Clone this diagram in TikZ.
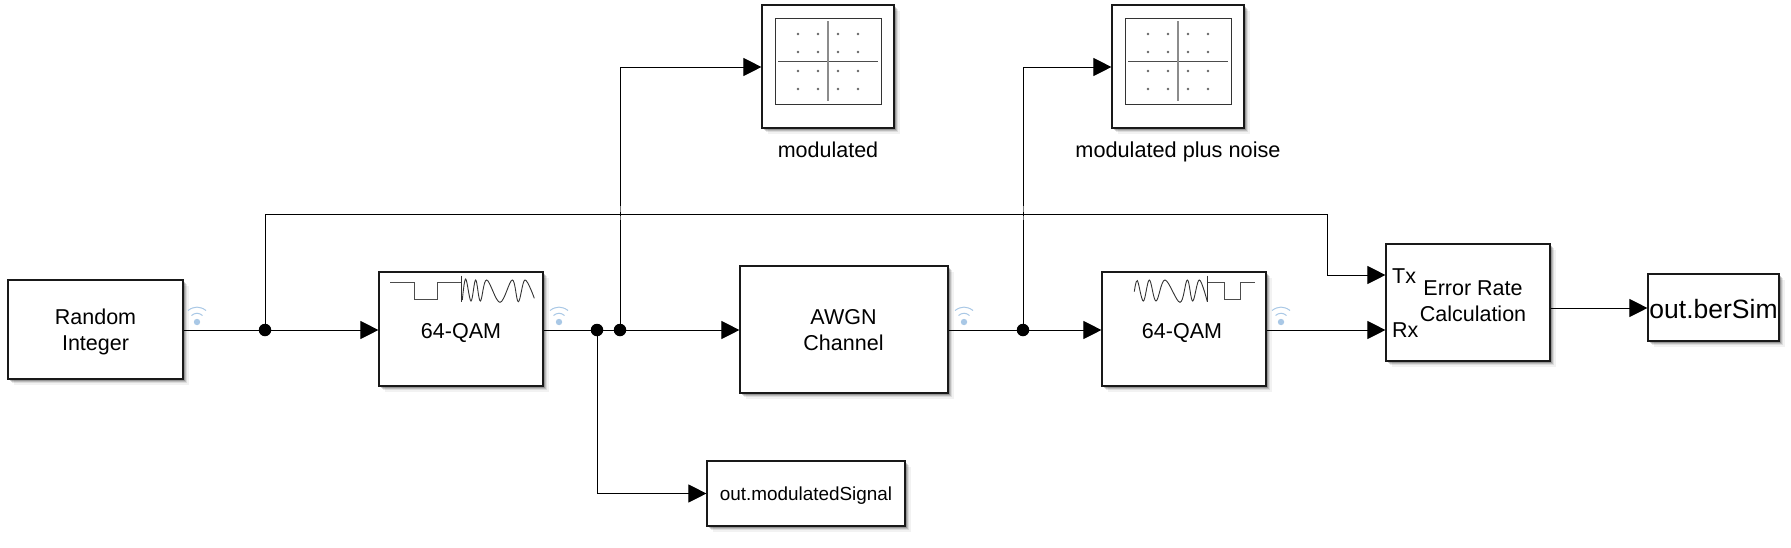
\documentclass[tikz,border=0pt]{standalone}
\usepackage{fontspec}
\setmainfont{Liberation Sans}
\usetikzlibrary{arrows.meta,shadows,calc}
\definecolor{wifi}{HTML}{A9C8E6}
\tikzset{
  x=1pt,y=-1pt,
  softshadow/.style={
    general shadow={shadow xshift=5.5pt,shadow yshift=-5.5pt,fill=black,opacity=.05},
    general shadow={shadow xshift=4pt,shadow yshift=-4pt,fill=black,opacity=.09},
    general shadow={shadow xshift=2.8pt,shadow yshift=-2.8pt,fill=black,opacity=.14},
    general shadow={shadow xshift=1.6pt,shadow yshift=-1.6pt,fill=black,opacity=.2}},
  blk/.style={draw=black!90,line width=1.15pt,fill=white,inner sep=0pt,align=center,softshadow},
  sig/.style={draw=black,line width=.95pt},
  arr/.style={sig,-{Triangle[length=18pt,width=18pt]}},
  junction/.style={circle,fill=black,inner sep=0pt,minimum size=12.5pt},
  wave/.style={draw=black!80,line width=.9pt},
  lab/.style={inner sep=0pt,align=center},
}
\newcommand{\fs}[1]{\fontsize{#1}{27}\selectfont}
% name, x1, y1, x2, y2, text, font size
\newcommand{\blockbox}[7]{%
  \node[blk,minimum width=#4pt-#2pt,minimum height=#5pt-#3pt,font=\fs{#7}]
    (#1) at ({(#2+#4)/2},{(#3+#5)/2}) {#6};}
\newcommand{\scopeicon}[1]{%
  \begin{scope}[shift={(#1,0)}]
    \draw[black!80,line width=.9pt] (775,18) rectangle (881,104);
    \draw[black!70,line width=.8pt] (778,61) -- (878,61);
    \draw[black!45,line width=1.1pt] (828,21) -- (828,101);
    \foreach \px in {798,818,838,858}
      \foreach \py in {34,52,71,89}
        \fill[black!60] (\px,\py) circle (1.4pt);
  \end{scope}}
\newcommand{\wifiicon}[1]{%
  \begin{scope}[shift={(#1,322)}]
    \fill[wifi] (0,0) circle (3.2pt);
    \draw[wifi,line width=1pt] (-5.5,-6.5) .. controls (-2,-9.5) and (2,-9.5) .. (5.5,-6.5);
    \draw[wifi,line width=1pt] (-9,-11.5) .. controls (-3,-16) and (3,-16) .. (9,-11.5);
  \end{scope}}
\begin{document}
\begin{tikzpicture}
\useasboundingbox (0,0) rectangle (1791,547);
\fill[white] (0,0) rectangle (1791,547);

% junctions and routing points
\coordinate (j1) at (265,330);
\coordinate (j2) at (597,330);
\coordinate (j3) at (620,330);
\coordinate (j4) at (1023,330);
\coordinate (top1) at (265,214);
\coordinate (top2) at (1327,214);
\coordinate (cr1) at (620,214);
\coordinate (cr2) at (1023,214);

% blocks
\blockbox{rnd}{8}{280}{183}{379}{}{21.5}
\blockbox{qam1}{379}{272}{543}{386}{}{21.5}
\blockbox{awgn}{740}{266}{948}{393}{}{21.5}
\blockbox{qam2}{1102}{272}{1266}{386}{}{21.5}
\blockbox{err}{1386}{244}{1550}{361}{}{21.5}
\blockbox{ber}{1648}{274}{1779}{341}{}{26.5}
\blockbox{sink}{707}{461}{905}{526}{}{18.9}
\blockbox{sc1}{762}{5}{894}{128}{}{21.5}
\blockbox{sc2}{1112}{5}{1244}{128}{}{21.5}

% block contents
\node[lab,font=\fs{21.5},anchor=base] (tr1) at (95.5,324.5) {Random};
\node[lab,font=\fs{21.5},anchor=base] (tr2) at (95.5,350) {Integer};
\node[lab,font=\fs{21.5},anchor=base] (ta1) at (843.5,324.5) {AWGN};
\node[lab,font=\fs{21.5},anchor=base] (ta2) at (843.5,350) {Channel};
\node[lab,font=\fs{26.5},anchor=base] (tb) at (1713.5,318) {out.berSim};
\node[lab,font=\fs{18.9},anchor=base] (ts) at (806,500) {out.modulatedSignal};
\node[lab,font=\fs{21.5},anchor=base] (tq1) at (461,338.5) {64-QAM};
\node[lab,font=\fs{21.5},anchor=base] (tq2) at (1182,338.5) {64-QAM};
\node[lab,font=\fs{21.5},anchor=base west] (ttx) at (1392,283) {Tx};
\node[lab,font=\fs{21.5},anchor=base west] (trx) at (1392,337) {Rx};
\node[lab,font=\fs{21.5},anchor=base] (te1) at (1473,295) {Error Rate};
\node[lab,font=\fs{21.5},anchor=base] (te2) at (1473,321.5) {Calculation};
\node[lab,font=\fs{21.5},anchor=base] (ls1) at (828,157.5) {modulated};
\node[lab,font=\fs{21.7},anchor=base] (ls2) at (1178,157.5) {modulated plus noise};

\scopeicon{0}
\scopeicon{350}

% QAM icons
\begin{scope}[shift={(375,265)},x=.3333pt,y=-.3333pt]
  \draw[wave,line width=1pt,black!70] (45,53) -- (117,53) -- (117,104) -- (188,104) -- (188,53) -- (260,53);
  \draw[wave,line width=1.2pt] (260,32) -- (260,112);
  \draw[wave] plot[smooth,tension=.6] coordinates {(262,105) (272,42) (288,108) (302,45) (316,108) (335,45) (375,112) (412,45) (430,110) (450,45) (478,100)};
\end{scope}
\begin{scope}[shift={(1100,265)},x=.3333pt,y=-.3333pt]
  \draw[wave,line width=1pt,black!70] (322,53) -- (373,53) -- (373,104) -- (420,104) -- (420,53) -- (465,53);
  \draw[wave,line width=1.2pt] (322,32) -- (322,112);
  \draw[wave] plot[smooth,tension=.6] coordinates {(103,80) (112,47) (130,108) (148,45) (168,108) (195,45) (240,112) (262,45) (278,108) (298,45) (322,110)};
\end{scope}

\wifiicon{197}
\wifiicon{559}
\wifiicon{964}
\wifiicon{1281}

% connectors
\draw[arr] (rnd.east |- j1) -- (qam1.west |- j1);
\draw[arr] (qam1.east |- j2) -- (awgn.west |- j2);
\draw[arr] (awgn.east |- j4) -- (qam2.west |- j4);
\draw[arr] (qam2.east |- j4) -- (err.west |- j4);
\draw[arr] (err.east |- 0,308) -- (ber.west |- 0,308);
\draw[arr] (j2) |- (sink.west);
\draw[arr] (j3) |- (sc1.west |- 0,67);
\draw[arr] (j4) |- (sc2.west |- 0,67);
\draw[arr] (j1) -- (top1) -- (top2) |- (err.west |- 0,275);

% faded hops at the crossings
\foreach \c in {cr1,cr2} {
  \draw[white,opacity=.45,line width=1.4pt] ($(\c)+(0,-8)$) -- ($(\c)+(0,-2)$);
  \draw[white,opacity=.45,line width=1.4pt] ($(\c)+(0,2)$) -- ($(\c)+(0,6)$);
}

\node[junction] (d1) at (j1) {};
\node[junction] (d2) at (j2) {};
\node[junction] (d3) at (j3) {};
\node[junction] (d4) at (j4) {};
\end{tikzpicture}
\end{document}
